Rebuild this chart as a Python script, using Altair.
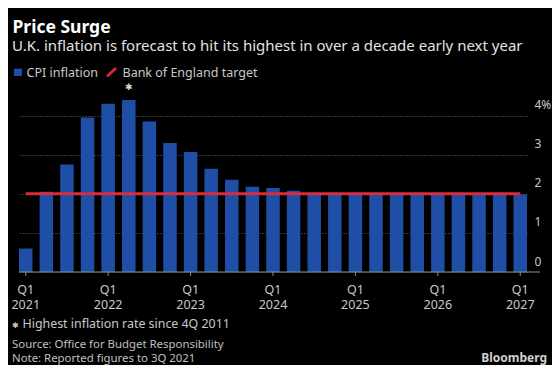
import altair as alt
import pandas as pd

quarters = [f"{y} Q{q}" for y in range(2021, 2027) for q in range(1, 5)] + ["2027 Q1"]
cpi = [0.6, 2.05, 2.75, 3.95, 4.3, 4.4, 3.85, 3.3, 3.07, 2.64, 2.36, 2.18, 2.15,
       2.08, 2.0, 2.0, 2.0, 2.0, 2.0, 2.0, 2.0, 2.0, 2.0, 2.0, 1.98]
target = [2.0] * len(quarters)
y_ticks = [0, 1, 2, 3, 4]

title = "Price Surge"
subtitle = "U.K. inflation is forecast to hit its highest in over a decade early next year"
legend_labels = ["CPI inflation", "Bank of England target"]
footnote = "Highest inflation rate since 4Q 2011"
source = "Source: Office for Budget Responsibility"
note = "Note: Reported figures to 3Q 2021"

BLUE = "#1f4ea6"
RED = "#dc2a3f"
FONT = "Noto Sans"
H = 176

df = pd.DataFrame({"quarter": quarters, "cpi": cpi, "target": target})
df["q"] = df["quarter"].str.slice(5)
df["year"] = df["quarter"].str.slice(0, 4)
q1 = df[df["q"] == "Q1"]
peak = df.loc[[df["cpi"].idxmax()]]

xscale = alt.Scale(domain=quarters, paddingInner=0.345, paddingOuter=0)
xenc = alt.X("quarter:O", scale=xscale, axis=None)
yscale = alt.Scale(domain=[0, 4.5], nice=False)
yaxis = alt.Axis(orient="right", values=y_ticks, title=None,
                 labelExpr="datum.value == 4 ? '4%' : datum.label",
                 grid=True, gridColor="#666666", gridDash=[1, 2],
                 ticks=False, domain=False, labelAlign="left",
                 labelBaseline="alphabetic", labelOffset=-7, labelPadding=7,
                 labelColor="#c8c8c8", labelFont=FONT, labelFontSize=12)

bars = alt.Chart(df).mark_bar(color=BLUE).encode(
    x=xenc, y=alt.Y("cpi:Q", scale=yscale, axis=yaxis))

line = alt.Chart(df).mark_line(color=RED, strokeWidth=3).encode(
    x=xenc, y=alt.Y("target:Q", scale=yscale, axis=yaxis))

star = alt.Chart(peak).mark_text(text="✱", color="#d8d8d8", fontSize=9, dy=-13,
                                 baseline="middle").encode(
    x=xenc, y=alt.Y("cpi:Q", scale=yscale, axis=yaxis))

baseline = alt.Chart(alt.Data(values=[{}])).mark_rule(color="#8c8c8c", strokeWidth=1).encode(
    x=alt.value(0), x2=alt.value(521), y=alt.value(H))

ticks = alt.Chart(q1).mark_rule(color="#8c8c8c", strokeWidth=1).encode(
    x=xenc, y=alt.value(H), y2=alt.value(H + 4))

lab_q = alt.Chart(q1).mark_text(font=FONT, fontSize=12.5, color="#c8c8c8",
                                baseline="middle").encode(
    x=xenc, y=alt.value(H + 18), text="q:N")
lab_y = alt.Chart(q1).mark_text(font=FONT, fontSize=12.5, color="#c8c8c8",
                                baseline="middle").encode(
    x=xenc, y=alt.value(H + 33), text="year:N")

one = alt.Data(values=[{}])

def txt(t, x, y, size, color, weight="normal", align="left"):
    return alt.Chart(one).mark_text(text=t, font=FONT, fontSize=size, color=color,
                                    fontWeight=weight, align=align,
                                    baseline="alphabetic").encode(
        x=alt.value(x), y=alt.value(y))

texts = [
    txt(title, -6.5, -63.3, 17.5, "#ffffff", "bold"),
    txt(subtitle, -7, -45.3, 15, "#e2e2e2"),
    txt(legend_labels[0], 7.5, -19.5, 12.5, "#c8c8c8"),
    txt(legend_labels[1], 103.5, -19.5, 12.5, "#c8c8c8"),
    txt("✱", -7, 232.3, 8, "#c8c8c8"),
    txt(footnote, 3.5, 232.3, 12.4, "#c8c8c8"),
    txt(source, -7, 252.3, 11.4, "#c0c0c0"),
    txt(note, -7, 265.7, 11.4, "#c0c0c0"),
    txt("Bloomberg", 528, 266, 12, "#d0d0d0", "bold", "right"),
]

leg_sq = alt.Chart(one).mark_rect(color=BLUE).encode(
    x=alt.value(-5), x2=alt.value(3), y=alt.value(-27.3), y2=alt.value(-20))
leg_slash = alt.Chart(one).mark_rule(color=RED, strokeWidth=2.5).encode(
    x=alt.value(88), x2=alt.value(97), y=alt.value(-19.5), y2=alt.value(-28))

chart = alt.layer(bars, line, star, baseline, ticks, lab_q, lab_y,
                  leg_sq, leg_slash, *texts).properties(
    width=508, height=H,
    padding={"left": 11, "top": 88, "right": 25, "bottom": 93},
    autosize=alt.AutoSizeParams(type="none"),
    background="#000000",
).configure_view(stroke=None)

chart.save("out.html", embed_options={"renderer": "svg", "actions": False})
